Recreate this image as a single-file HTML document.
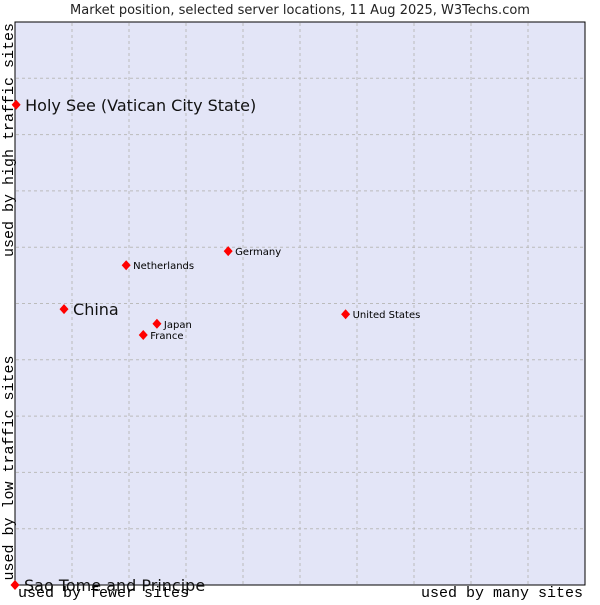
<!DOCTYPE html>
<html><head><meta charset="utf-8"><style>
body{margin:0;background:#fff;width:600px;height:600px;overflow:hidden}
svg text{font-family:"DejaVu Sans","Liberation Sans",sans-serif}
.m{font-family:"Liberation Mono","DejaVu Sans Mono",monospace !important}
</style></head><body>
<svg width="600" height="600" id="c">
<text x="300" y="14" text-anchor="middle" font-size="13" fill="#222">Market position, selected server locations, 11 Aug 2025, W3Techs.com</text>
<rect x="15" y="22" width="570" height="563" fill="#e3e5f7" stroke="#000" stroke-width="1"/>
<g id="grid"></g>
<g id="pts"></g>
<text class="m" transform="translate(13,140) rotate(-90)" text-anchor="middle" font-size="15">used by high traffic sites</text>
<text class="m" transform="translate(13,468) rotate(-90)" text-anchor="middle" font-size="15">used by low traffic sites</text>
<text class="m" x="18" y="597" font-size="15">used by fewer sites</text>
<text class="m" x="583" y="597" text-anchor="end" font-size="15">used by many sites</text>
</svg>
<script>
const names=["Holy See (Vatican City State)","China","Netherlands","Germany","Japan","France","United States","Sao Tome and Principe"];
const xs=[0.2,8.6,19.5,37.4,24.9,22.5,58.0,0];
const ys=[85.3,49.0,56.8,59.3,46.4,44.4,48.1,0];
const big=[true,true,false,false,false,false,false,true];
const X0=15,W=570,Y0=585,H=563;
const sx=v=>X0+v/100*W, sy=v=>Y0-v/100*H;
const ns="http://www.w3.org/2000/svg";
const g=document.getElementById('grid');
for(let i=1;i<10;i++){
 const l=document.createElementNS(ns,'line');
 
 
 const x=X0+i*57;l.setAttribute('x1',x);l.setAttribute('x2',x);l.setAttribute('y1',23);l.setAttribute('y2',584);
 l.setAttribute('stroke','#bbb');l.setAttribute('stroke-dasharray','3,3');g.appendChild(l);
 const h=document.createElementNS(ns,'line');
 
 
 const y=Y0-i*H/10;h.setAttribute('y1',y);h.setAttribute('y2',y);h.setAttribute('x1',16);h.setAttribute('x2',584);
 h.setAttribute('stroke','#bbb');h.setAttribute('stroke-dasharray','3,3');g.appendChild(h);
}
const p=document.getElementById('pts');
names.forEach((n,i)=>{
 const x=sx(xs[i]),y=sy(ys[i]);
 const d=document.createElementNS(ns,'path');
 
 
 d.setAttribute('d',`M${x} ${y-5}L${x+4.5} ${y}L${x} ${y+5}L${x-4.5} ${y}Z`);
 d.setAttribute('fill','#f00');p.appendChild(d);
 const t=document.createElementNS(ns,'text');
 
 
 t.setAttribute('x',x+(big[i]?9:7));t.setAttribute('y',y+(big[i]?6:4));
 t.setAttribute('font-size',big[i]?16:10);
 t.setAttribute('fill',big[i]?'#111':'#000');
 t.textContent=n;p.appendChild(t);
});
</script>
</body></html>
